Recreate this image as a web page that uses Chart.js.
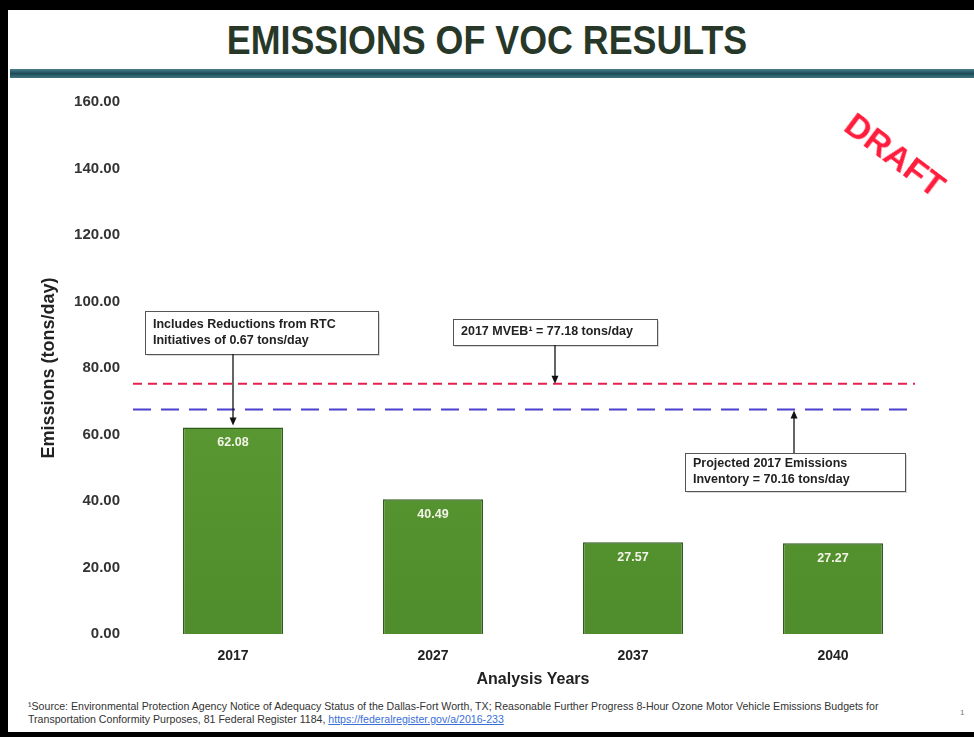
<!DOCTYPE html>
<html>
<head>
<meta charset="utf-8">
<title>Emissions of VOC Results</title>
<script src="https://cdn.jsdelivr.net/npm/chart.js@4.4.1/dist/chart.umd.min.js"></script>
<style>
  body { margin: 0; width: 974px; height: 737px; background: #000; position: relative; overflow: hidden; font-family: Arial, "Liberation Sans", sans-serif; }
  .page { position: absolute; left: 8px; top: 10px; width: 966px; height: 722px; background: #fff; }
  .title { position: absolute; left: 0; top: 18px; width: 974px; text-align: center; font: bold 40px "Liberation Sans Narrow", Arial, sans-serif; line-height: 44px; color: #283828; transform: scaleX(0.895); }
  .rule { position: absolute; left: 10px; top: 69px; width: 964px; height: 9px; background: linear-gradient(#4a7f8a, #1c4d57 50%, #3f7580); }
  .chart-box { position: absolute; left: 10px; top: 88px; width: 964px; height: 607px; }
  .draft { position: absolute; left: 895px; top: 155px; transform: translate(-50%, -50%) rotate(37deg); color: #ff1d3d; font: bold 34px Arial, sans-serif; }
  .note { position: absolute; left: 28px; top: 700px; font: 10.6px "Liberation Sans Narrow", Arial, sans-serif; line-height: 13px; color: #333; white-space: nowrap; }
  .note a { color: #3a6fd8; text-decoration: underline; }
  .page-num { position: absolute; left: 960px; top: 708px; font: 8px Arial, sans-serif; color: #777; }
</style>
</head>
<body>
<div class="page"></div>
<div class="title">EMISSIONS OF VOC RESULTS</div>
<div class="rule"></div>
<div class="chart-box"><canvas id="voc-chart"></canvas></div>
<div class="draft">DRAFT</div>
<div class="note">¹Source: Environmental Protection Agency Notice of Adequacy Status of the Dallas-Fort Worth, TX; Reasonable Further Progress 8-Hour Ozone Motor Vehicle Emissions Budgets for<br>Transportation Conformity Purposes, 81 Federal Register 1184, <a>https://federalregister.gov/a/2016-233</a></div>
<div class="page-num">1</div>
<script>
const years = ['2017', '2027', '2037', '2040'];
const emissions = [62.08, 40.49, 27.57, 27.27];
const yMin = 0;
const yMax = 160;
const yStep = 20;

// dashed reference lines, placed where the picture draws them
const mvebLevel = 75.3;
const inventoryLevel = 67.5;

const reductionNote = ['Includes Reductions from RTC', 'Initiatives of 0.67 tons/day'];
const mvebNote = ['2017 MVEB¹ = 77.18 tons/day'];
const inventoryNote = ['Projected 2017 Emissions', 'Inventory = 70.16 tons/day'];

const ctx = document.getElementById('voc-chart').getContext('2d');

function barFill(context) {
  const area = context.chart.chartArea;
  if (!area) return '#5a9833';
  const g = context.chart.ctx.createLinearGradient(0, area.top, 0, area.bottom);
  g.addColorStop(0, '#66a83c');
  g.addColorStop(1, '#4f8c2b');
  return g;
}

function drawArrow(c, x, y1, y2) {
  const dir = y2 > y1 ? 1 : -1;
  c.save();
  c.strokeStyle = '#111';
  c.fillStyle = '#111';
  c.lineWidth = 1.3;
  c.beginPath();
  c.moveTo(x, y1);
  c.lineTo(x, y2 - dir * 6);
  c.stroke();
  c.beginPath();
  c.moveTo(x, y2);
  c.lineTo(x - 3.5, y2 - dir * 8);
  c.lineTo(x + 3.5, y2 - dir * 8);
  c.closePath();
  c.fill();
  c.restore();
}

function drawNote(c, x, y, w, h, lines) {
  c.save();
  c.fillStyle = 'rgba(0,0,0,0.15)';
  c.fillRect(x + 2, y + 2, w, h);
  c.fillStyle = '#fff';
  c.fillRect(x, y, w, h);
  c.strokeStyle = '#555';
  c.lineWidth = 1;
  c.strokeRect(x + 0.5, y + 0.5, w, h);
  c.fillStyle = '#222';
  c.font = 'bold 12.5px Arial';
  c.textBaseline = 'middle';
  c.textAlign = 'left';
  const lh = 16;
  const top = y + h / 2 - (lines.length - 1) * lh / 2;
  lines.forEach((line, i) => c.fillText(line, x + 8, top + i * lh));
  c.restore();
}

const notesPlugin = {
  id: 'notes',
  afterDatasetsDraw(chart) {
    const c = chart.ctx;
    const area = chart.chartArea;
    const xs = chart.scales.x;
    const ys = chart.scales.y;

    // reference lines
    c.save();
    c.lineWidth = 2;
    c.strokeStyle = '#e3214c';
    c.setLineDash([9, 6]);
    c.beginPath();
    c.moveTo(area.left, ys.getPixelForValue(mvebLevel));
    c.lineTo(area.right - 18, ys.getPixelForValue(mvebLevel));
    c.stroke();
    c.strokeStyle = '#4a3fd0';
    c.setLineDash([18, 10]);
    c.beginPath();
    c.moveTo(area.left, ys.getPixelForValue(inventoryLevel));
    c.lineTo(area.right - 18, ys.getPixelForValue(inventoryLevel));
    c.stroke();
    c.restore();

    // bar value labels
    const meta = chart.getDatasetMeta(0);
    c.save();
    c.font = 'bold 12.5px Arial';
    c.fillStyle = '#f3f3e8';
    c.textAlign = 'center';
    c.textBaseline = 'middle';
    meta.data.forEach((bar, i) => {
      c.fillText(emissions[i].toFixed(2), bar.x, bar.y + 15);
    });
    c.restore();

    // callouts
    const b1 = { x: area.left + 12, y: area.top + 209, w: 233, h: 43 };
    const b2 = { x: area.left + 320, y: area.top + 217, w: 204, h: 26 };
    const b3 = { x: area.left + 552, y: area.top + 351, w: 220, h: 38 };
    drawNote(c, b1.x, b1.y, b1.w, b1.h, reductionNote);
    drawNote(c, b2.x, b2.y, b2.w, b2.h, mvebNote);
    drawNote(c, b3.x, b3.y, b3.w, b3.h, inventoryNote);

    const firstBar = meta.data[0];
    drawArrow(c, firstBar.x, b1.y + b1.h, firstBar.y - 2);
    const x2 = xs.getPixelForValue(1.61);
    drawArrow(c, x2, b2.y + b2.h, ys.getPixelForValue(mvebLevel));
    const x3 = xs.getPixelForValue(2.805);
    drawArrow(c, x3, b3.y, ys.getPixelForValue(inventoryLevel) + 1);
  },
};

new Chart(ctx, {
  type: 'bar',
  data: {
    labels: years,
    datasets: [{
      data: emissions,
      backgroundColor: barFill,
      borderColor: '#2f5c1d',
      borderWidth: 1.5,
      barPercentage: 0.5,
      categoryPercentage: 1,
    }],
  },
  options: {
    responsive: true,
    maintainAspectRatio: false,
    animation: false,
    layout: { padding: { left: 28, right: 41, top: 10, bottom: 0 } },
    plugins: {
      legend: { display: false },
      tooltip: { enabled: false },
    },
    scales: {
      x: {
        grid: { display: false },
        border: { display: false },
        ticks: { color: '#222', font: { family: 'Arial', size: 14, weight: 'bold' }, padding: 6 },
        title: {
          display: true,
          text: 'Analysis Years',
          color: '#222',
          font: { family: 'Arial', size: 16, weight: 'bold' },
          padding: { top: 0, bottom: 6 },
        },
        afterFit(scale) { scale.height = 61; },
      },
      y: {
        min: yMin,
        max: yMax,
        grid: { display: false },
        border: { display: false },
        ticks: {
          stepSize: yStep,
          color: '#333',
          font: { family: 'Arial', size: 15, weight: 'bold' },
          padding: 5,
          callback: (v) => Number(v).toFixed(2),
        },
        title: {
          display: true,
          text: 'Emissions (tons/day)',
          color: '#222',
          font: { family: 'Arial', size: 18, weight: 'bold' },
          padding: 0,
        },
        afterFit(scale) { scale.width = 95; },
      },
    },
  },
  plugins: [notesPlugin],
});
</script>
</body>
</html>
